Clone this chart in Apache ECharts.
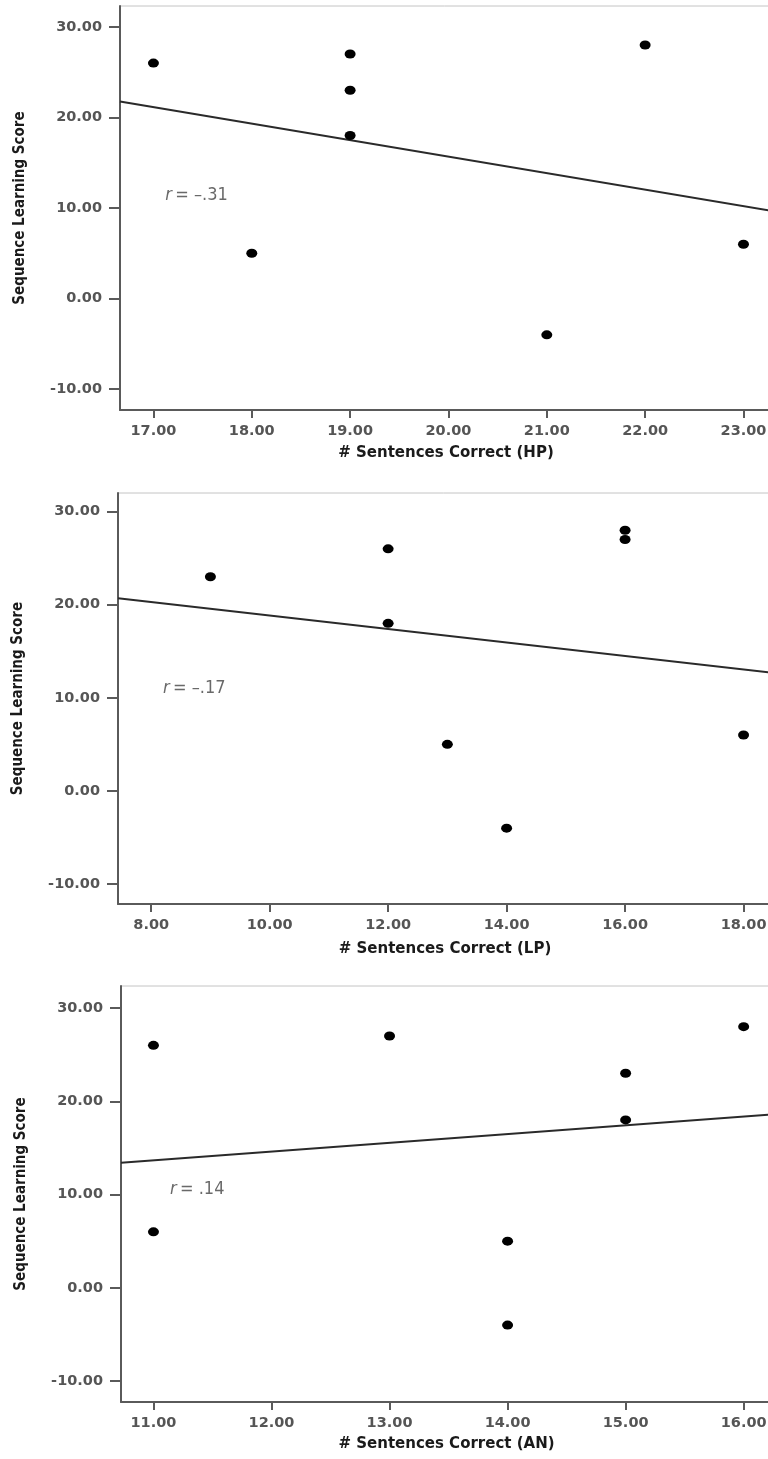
<!DOCTYPE html>
<html>
<head>
<meta charset="utf-8">
<script src="https://cdn.jsdelivr.net/npm/echarts@6/dist/echarts.min.js"></script>
<style>
html,body{margin:0;padding:0;background:#fff;overflow:hidden;}
#c{width:768px;height:1459px;}
</style>
</head>
<body>
<div id="c"></div>
<script>
// ---- data ----
const hpX = [17, 18, 19, 19, 19, 21, 22, 23];
const hpY = [26, 5, 27, 23, 18, -4, 28, 6];
const lpX = [9, 12, 12, 13, 14, 16, 16, 18];
const lpY = [23, 26, 18, 5, -4, 28, 27, 6];
const anX = [11, 11, 13, 14, 14, 15, 15, 16];
const anY = [26, 6, 27, 5, -4, 23, 18, 28];

const yTicks = [-10, 0, 10, 20, 30];
const hpTicks = [17, 18, 19, 20, 21, 22, 23];
const lpTicks = [8, 10, 12, 14, 16, 18];
const anTicks = [11, 12, 13, 14, 15, 16];

const xTitles = ['# Sentences Correct (HP)', '# Sentences Correct (LP)', '# Sentences Correct (AN)'];
const yTitle = 'Sequence Learning Score';
const rLabels = ['–.31', '–.17', '.14'];
const rAnchors = [[17.12, 11.4], [8.2, 11.0], [11.14, 10.6]];

// ---- layout ----
const panels = [
  {x: hpX, y: hpY, ticks: hpTicks, xr: [16.66, 23.29], yr: [-12.3, 32.3], grid: {left: 120, top: 6, height: 404}, nameGap: 36},
  {x: lpX, y: lpY, ticks: lpTicks, xr: [7.44, 18.48], yr: [-12.15, 32.0], grid: {left: 118, top: 493, height: 411}, nameGap: 38},
  {x: anX, y: anY, ticks: anTicks, xr: [10.725, 16.24], yr: [-12.25, 32.36], grid: {left: 121, top: 986, height: 416}, nameGap: 35}
];

function fit(xs, ys) {
  const n = xs.length;
  const mx = xs.reduce((a, b) => a + b, 0) / n;
  const my = ys.reduce((a, b) => a + b, 0) / n;
  let sxy = 0, sxx = 0;
  for (let i = 0; i < n; i++) { sxy += (xs[i] - mx) * (ys[i] - my); sxx += (xs[i] - mx) ** 2; }
  const b = sxy / sxx;
  return x => my + b * (x - mx);
}

const fmt = v => Number(v).toFixed(2);
const labelColor = '#555';
const axisColor = '#5a5a5a';

const grids = [], xAxes = [], yAxes = [], series = [];
panels.forEach((p, i) => {
  grids.push({left: p.grid.left, top: p.grid.top, height: p.grid.height, right: -4,
    show: true, borderColor: '#c4c4c4', borderWidth: 1, backgroundColor: '#fff', outerBoundsMode: 'none'});
  xAxes.push({
    type: 'value', gridIndex: i, min: p.xr[0], max: p.xr[1],
    name: xTitles[i], nameLocation: 'middle', nameGap: p.nameGap,
    nameTextStyle: {fontFamily: 'DejaVu Sans', fontWeight: 'bold', fontSize: 15, color: '#1a1a1a'},
    axisLine: {show: true, onZero: false, lineStyle: {color: axisColor, width: 2}},
    axisTick: {show: true, length: 8, customValues: p.ticks, lineStyle: {color: axisColor, width: 2}},
    axisLabel: {customValues: p.ticks, formatter: fmt, margin: 14, fontFamily: 'DejaVu Sans', fontWeight: 'bold', fontSize: 14.5, color: labelColor},
    splitLine: {show: false}
  });
  yAxes.push({
    type: 'value', gridIndex: i, min: p.yr[0], max: p.yr[1],
    name: yTitle, nameLocation: 'middle', nameGap: 92, nameRotate: 90,
    nameTextStyle: {fontFamily: 'DejaVu Sans Condensed', fontWeight: 'bold', fontSize: 15, color: '#1a1a1a'},
    axisLine: {show: true, onZero: false, lineStyle: {color: axisColor, width: 2}},
    axisTick: {show: true, length: 11, customValues: yTicks, lineStyle: {color: axisColor, width: 2}},
    axisLabel: {customValues: yTicks, formatter: fmt, margin: 18, fontFamily: 'DejaVu Sans', fontWeight: 'bold', fontSize: 14.5, color: labelColor},
    splitLine: {show: false}
  });
  const f = fit(p.x, p.y);
  series.push({
    type: 'line', xAxisIndex: i, yAxisIndex: i, symbol: 'none', silent: true,
    lineStyle: {color: '#2a2a2a', width: 2},
    data: [[p.xr[0], f(p.xr[0])], [p.xr[1], f(p.xr[1])]], z: 2
  });
  series.push({
    type: 'scatter', xAxisIndex: i, yAxisIndex: i, symbol: 'circle', symbolSize: [11, 9],
    itemStyle: {color: '#000', opacity: 1}, data: p.x.map((v, k) => [v, p.y[k]]), z: 3
  });
  series.push({
    type: 'scatter', xAxisIndex: i, yAxisIndex: i, symbolSize: 0, silent: true,
    data: [rAnchors[i]],
    label: {show: true, position: 'right', distance: 0,
      formatter: '{i|r} {n|= ' + rLabels[i] + '}',
      rich: {
        i: {fontFamily: 'DejaVu Sans Condensed', fontStyle: 'italic', fontSize: 18, color: '#444'},
        n: {fontFamily: 'DejaVu Sans Condensed', fontSize: 18, color: '#444'}
      }}
  });
});

const chart = echarts.init(document.getElementById('c'), null, {renderer: 'canvas'});
chart.setOption({animation: false, backgroundColor: '#fff', grid: grids, xAxis: xAxes, yAxis: yAxes, series: series});
</script>
</body>
</html>
